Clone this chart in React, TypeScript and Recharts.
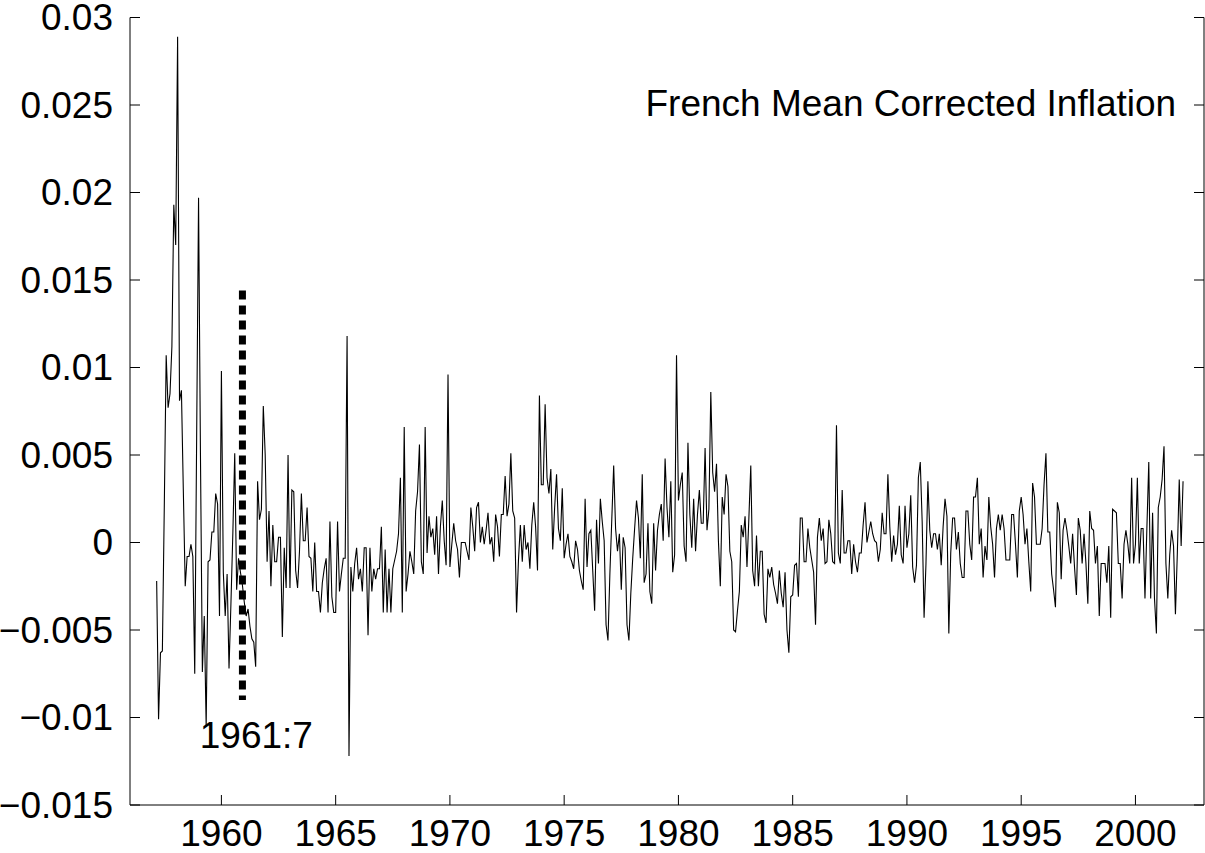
import React from 'react';
import { LineChart, Line, XAxis, YAxis, ReferenceLine, ReferenceDot } from 'recharts';

// monthly mean-corrected inflation, starting 1957:3
const infl1957to1959 = [
  -0.0022, -0.0101, -0.0063, -0.0062, 0.002, 0.0107, 0.0077, 0.0085, 0.0112, 0.0193,
  0.017, 0.0289, 0.0081, 0.0087, 0.003, -0.0025, -0.0008, -0.0008, -0.0001, -0.0008,
  -0.0075, 0.006, 0.0197, 0.005, -0.0074, -0.0042, -0.0105, -0.0011, -0.001, 0.0006,
  0.0006, 0.0028, 0.0022, -0.0042,
];
const infl1960to1964 = [
  0.0098, -0.0017, -0.0042, -0.0018, -0.0072, -0.0035, 0.0005, 0.0051, -0.0027, -0.0009,
  -0.0017, -0.0024, -0.0034, -0.0042, -0.0038, -0.0048, -0.0055, -0.0057, -0.0071, 0.0035,
  0.0013, 0.0019, 0.0078, 0.005, -0.0011, 0.0018, -0.0025, 0.001, -0.0011, -0.0011,
  0.0003, 0.0003, -0.0054, -0.0003, -0.0026, 0.005, -0.0026, 0.003, 0.0029, -0.0016,
  -0.0026, -0.0005, 0.0028, 0.0001, 0.0001, 0.002, -0.0008, -0.0009, -0.0028, 0.0,
  -0.0028, -0.0028, -0.004, -0.0023, -0.0015, -0.0009, -0.004, 0.0012, -0.0031, -0.004,
];
const infl1965to1969 = [
  -0.004, 0.0012, -0.0028, -0.0018, -0.0009, -0.0009, 0.0118, -0.0122, -0.0014, -0.0028,
  -0.0012, -0.0003, -0.0021, -0.0015, -0.0028, -0.0003, -0.0003, -0.0053, -0.0003, -0.0028,
  -0.0015, -0.0021, -0.0015, -0.0015, 0.0009, -0.004, -0.0004, -0.004, -0.0015, -0.004,
  -0.0015, -0.001, -0.0005, 0.0005, 0.0037, -0.004, 0.0066, -0.0028, -0.0018, -0.0005,
  -0.0011, -0.0018, 0.0018, 0.0029, 0.0056, -0.0011, -0.0018, 0.0066, -0.0006, 0.0015,
  0.0003, 0.0008, -0.0007, 0.0015, -0.0018, 0.0009, 0.0024, 0.0001, -0.0013, 0.0096,
];
const infl1970to1974 = [
  -0.0014, -0.0001, 0.0011, 0.0001, -0.0004, -0.002, 0.0, 0.0, 0.0, -0.0005,
  -0.001, 0.002, 0.0009, -0.0005, 0.002, 0.0023, 0.0, 0.0009, -0.0001, 0.0007,
  0.0017, -0.0001, 0.0003, -0.0011, 0.0016, 0.0009, -0.0008, 0.0016, 0.0016, 0.0038,
  0.0015, 0.0022, 0.0051, 0.0018, 0.0014, -0.004, -0.001, 0.001, -0.0011, 0.001,
  -0.0004, 0.0, -0.0015, 0.001, 0.0023, 0.0009, -0.0016, 0.0084, 0.0033, 0.0033,
  0.0079, 0.0037, 0.0028, 0.0042, -0.0004, 0.002, 0.0039, 0.0008, 0.0001, 0.0031,
];
const infl1975to1979 = [
  -0.0009, -0.0001, 0.0005, -0.0008, -0.0011, -0.0015, 0.0001, -0.0004, -0.0016, -0.0022,
  -0.0027, 0.0025, -0.0014, 0.0005, 0.0007, -0.0016, -0.0039, 0.0013, -0.0012, 0.0025,
  0.0012, 0.0001, -0.0047, -0.0056, -0.0018, 0.0013, 0.0044, 0.0008, -0.0005, 0.0005,
  -0.0027, 0.0003, -0.0003, -0.0047, -0.0056, -0.0029, -0.0009, 0.0008, 0.0024, 0.0014,
  -0.0009, 0.0039, -0.0023, -0.0018, 0.0011, -0.0028, -0.0035, 0.0011, -0.0016, 0.0007,
  0.0016, 0.0022, 0.0001, 0.0048, 0.002, 0.0003, 0.0035, -0.0017, -0.0007, 0.0107,
];
const infl1980to1984 = [
  0.0024, 0.0033, 0.004, -0.0002, -0.0011, 0.0057, 0.0016, -0.0003, 0.0025, -0.0005,
  0.0016, 0.003, 0.0011, 0.0011, 0.0054, 0.0007, 0.0019, 0.0086, 0.004, 0.0029,
  0.0045, 0.0001, -0.0025, 0.0026, 0.0016, 0.0039, 0.0032, -0.0005, -0.0011, -0.005,
  -0.0051, -0.0039, -0.0028, 0.001, 0.0003, 0.0015, -0.0014, 0.0014, 0.0044, -0.0016,
  -0.0025, 0.0004, -0.0025, -0.0005, -0.0005, -0.0041, -0.0046, -0.0015, -0.002, -0.0014,
  -0.0024, -0.0029, -0.0035, -0.0016, -0.0029, -0.0037, -0.0017, -0.005, -0.0063, -0.0031,
];
const infl1985to1989 = [
  -0.003, -0.0013, -0.0012, -0.0031, 0.0014, 0.0014, -0.0011, -0.0011, 0.0008, -0.0003,
  -0.001, -0.0017, -0.0047, 0.0003, 0.0014, 0.0001, 0.0008, -0.0012, -0.0011, 0.0013,
  0.0005, -0.0011, -0.0012, 0.0067, -0.0006, -0.0012, 0.003, -0.0006, -0.0006, 0.0001,
  0.0001, -0.0018, -0.0001, -0.0011, -0.0017, -0.0006, -0.0006, 0.001, 0.0023, 0.0,
  0.0006, 0.0012, 0.0005, 0.0001, 0.0, -0.0011, -0.0004, 0.0017, 0.0005, 0.0005,
  0.0039, 0.0009, -0.0011, 0.0004, -0.0007, -0.0001, 0.0021, -0.0007, -0.0012, 0.0021,
];
const infl1990to1994 = [
  -0.0003, 0.0005, 0.0027, -0.0014, -0.0023, -0.0013, 0.0037, 0.0046, 0.0012, -0.0043,
  -0.0012, 0.0035, 0.0007, -0.0003, 0.0005, 0.0005, -0.0004, 0.0005, -0.0013, 0.0009,
  0.0025, 0.0015, -0.0052, -0.0006, 0.0014, 0.0014, -0.0004, 0.0006, -0.0012, -0.002,
  -0.002, 0.0018, 0.0018, -0.0001, -0.001, 0.0026, 0.0026, 0.0037, -0.0001, 0.0008,
  -0.002, -0.0002, -0.001, 0.0026, 0.0009, -0.0001, -0.002, 0.0008, 0.0016, 0.0007,
  0.0016, 0.0008, -0.001, -0.001, -0.001, 0.0016, 0.0016, -0.0001, -0.002, 0.0018,
];
const infl1995to1999 = [
  0.0026, 0.0016, -0.0001, 0.0008, -0.0011, -0.0028, 0.0034, 0.0026, -0.0001, -0.0001,
  -0.0001, 0.0008, 0.0033, 0.0051, 0.0006, 0.0006, -0.0018, -0.0027, -0.0037, 0.0023,
  0.0017, -0.0021, 0.0007, 0.0014, 0.0007, -0.0002, -0.0012, 0.0005, -0.0014, -0.003,
  0.0014, 0.0007, -0.0012, 0.0005, -0.0012, -0.0035, 0.0018, 0.0008, 0.0007, -0.0012,
  -0.0002, -0.0042, -0.0012, -0.0012, -0.0012, -0.0023, -0.0002, -0.0043, 0.0019, 0.0018,
  0.0017, -0.0012, -0.0012, -0.0032, -0.0001, 0.0007, -0.0001, -0.0012, 0.0037, -0.0012,
];
const infl2000to2002 = [
  -0.0001, 0.0037, -0.0012, 0.0008, 0.0008, -0.0032, 0.0008, 0.0046, -0.0032, 0.0017,
  -0.0032, -0.0052, 0.002, 0.0026, 0.0036, 0.0055, -0.0012, -0.0032, -0.0007, 0.0007,
  -0.0002, -0.0041, -0.0006, 0.0036, -0.0002, 0.0035,
];

const blocks: [number, number[]][] = [
  [1957 + 2 / 12, infl1957to1959],
  [1960, infl1960to1964],
  [1965, infl1965to1969],
  [1970, infl1970to1974],
  [1975, infl1975to1979],
  [1980, infl1980to1984],
  [1985, infl1985to1989],
  [1990, infl1990to1994],
  [1995, infl1995to1999],
  [2000, infl2000to2002],
];

const xTicks = [1960, 1965, 1970, 1975, 1980, 1985, 1990, 1995, 2000];
const yTicks = [-0.015, -0.01, -0.005, 0, 0.005, 0.01, 0.015, 0.02, 0.025, 0.03];
const xDomain = [1956, 2003];
const yDomain = [-0.015, 0.03];

// break marker
const breakLabel = '1961:7';
const breakX = 1960.92;
const breakTop = 0.0144;
const breakBottom = -0.009;
const titleText = 'French Mean Corrected Inflation';

const data = blocks.flatMap(([start, vals]) => vals.map((v, i) => ({ t: start + i / 12, v })));

const FONT = 'Liberation Sans, Arial, Helvetica, sans-serif';
const FS = 37;
const TICK = 10;

const fmtY = (v: number) => (v === 0 ? '0' : (v < 0 ? '\u2212' : '') + String(Math.abs(v)));

const BottomTick = (p: any) => (
  <g>
    <line x1={p.x} x2={p.x} y1={p.y} y2={p.y - TICK} stroke="#000" />
    <text x={p.x} y={p.y + 28} textAnchor="middle" dominantBaseline="central" fontSize={FS} fontFamily={FONT} fill="#000">
      {p.payload.value}
    </text>
  </g>
);
const TopTick = (p: any) => <line x1={p.x} x2={p.x} y1={p.y} y2={p.y + TICK} stroke="#000" />;
const LeftTick = (p: any) => (
  <g>
    <line x1={p.x} x2={p.x + TICK} y1={p.y} y2={p.y} stroke="#000" />
    <text x={p.x - 17} y={p.y} textAnchor="end" dominantBaseline="central" fontSize={FS} fontFamily={FONT} fill="#000">
      {fmtY(p.payload.value)}
    </text>
  </g>
);
const RightTick = (p: any) => <line x1={p.x} x2={p.x - TICK} y1={p.y} y2={p.y} stroke="#000" />;

const TextMark = (anchor: 'middle' | 'end', txt: string) => (p: any) => (
  <text x={p.cx} y={p.cy} textAnchor={anchor} dominantBaseline="central" fontSize={FS} fontFamily={FONT} fill="#000">
    {txt}
  </text>
);

export default function App() {
  return (
    <div style={{ position: 'absolute', left: 0, top: 0, background: '#fff' }}>
      <LineChart width={1205} height={853} data={data} margin={{ top: 17.5, right: 0, bottom: 0, left: 30 }}>
        <XAxis xAxisId="b" type="number" dataKey="t" domain={xDomain} ticks={xTicks} interval={0}
          allowDataOverflow height={48} tickSize={0} tickMargin={0} tickLine={false}
          axisLine={{ stroke: '#000' }} tick={BottomTick} />
        <XAxis xAxisId="t" orientation="top" type="number" dataKey="t" domain={xDomain} ticks={xTicks} interval={0}
          allowDataOverflow height={0} tickSize={0} tickMargin={0} tickLine={false}
          axisLine={{ stroke: '#000' }} tick={TopTick} />
        <YAxis yAxisId="l" type="number" domain={yDomain} ticks={yTicks} interval={0} allowDataOverflow
          width={100} tickSize={0} tickMargin={0} tickLine={false} axisLine={{ stroke: '#000' }} tick={LeftTick} />
        <YAxis yAxisId="r" orientation="right" type="number" domain={yDomain} ticks={yTicks} interval={0} allowDataOverflow
          width={1} tickSize={0} tickMargin={0} tickLine={false} axisLine={{ stroke: '#000' }} tick={RightTick} />
        <Line xAxisId="b" yAxisId="l" type="linear" dataKey="v" stroke="#000" strokeWidth={1.1}
          dot={false} isAnimationActive={false} />
        <Line xAxisId="t" yAxisId="r" type="linear" dataKey="v" stroke="none" dot={false}
          isAnimationActive={false} legendType="none" />
        <ReferenceLine xAxisId="b" yAxisId="l"
          segment={[{ x: breakX, y: breakTop }, { x: breakX, y: breakBottom }]}
          stroke="#000" strokeWidth={7} strokeDasharray="9 6" />
        <ReferenceDot xAxisId="b" yAxisId="l" x={1961.53} y={-0.011} r={0} shape={TextMark('middle', breakLabel)} />
        <ReferenceDot xAxisId="b" yAxisId="l" x={2001.78} y={0.0251} r={0} shape={TextMark('end', titleText)} />
      </LineChart>
    </div>
  );
}
